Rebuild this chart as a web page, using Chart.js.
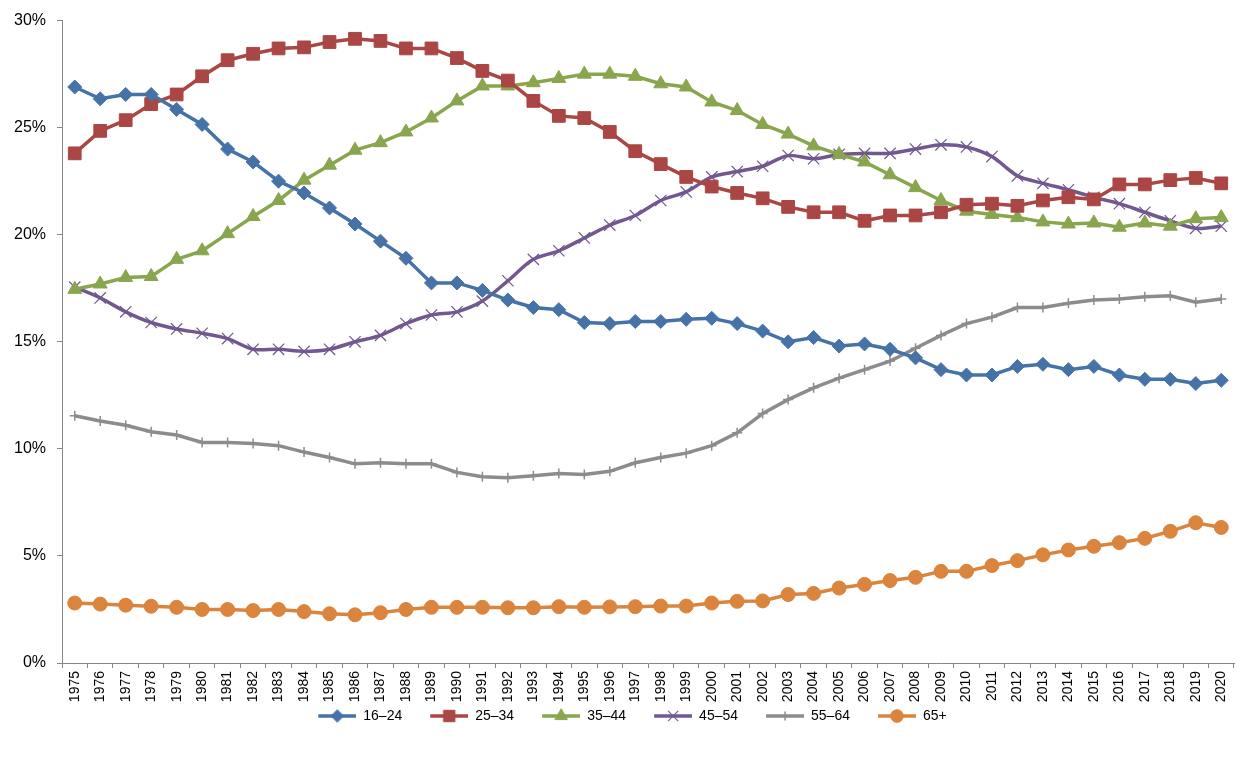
<!DOCTYPE html>
<html>
<head>
<meta charset="utf-8">
<script src="https://cdn.jsdelivr.net/npm/chart.js@4/dist/chart.umd.min.js"></script>
<style>
  html, body { margin: 0; padding: 0; background: #fff; }
  #wrap { width: 1244px; height: 757px; position: relative; }
</style>
</head>
<body>
<div id="wrap"><canvas id="ageChart"></canvas></div>
<script>
// Share of labour force by age group, 1975-2020 (%)
var years = ['1975', '1976', '1977', '1978', '1979', '1980', '1981', '1982', '1983', '1984',
    '1985', '1986', '1987', '1988', '1989', '1990', '1991', '1992', '1993', '1994',
    '1995', '1996', '1997', '1998', '1999', '2000', '2001', '2002', '2003', '2004',
    '2005', '2006', '2007', '2008', '2009', '2010', '2011', '2012', '2013', '2014',
    '2015', '2016', '2017', '2018', '2019', '2020'];

var age16to24 = [26.9, 26.35, 26.55, 26.55, 25.85, 25.15, 24.0, 23.4, 22.5, 21.95,
    21.25, 20.5, 19.7, 18.9, 17.75, 17.75, 17.4, 16.95, 16.6, 16.5,
    15.9, 15.85, 15.95, 15.95, 16.05, 16.1, 15.85, 15.5, 15.0, 15.2,
    14.8, 14.9, 14.65, 14.25, 13.7, 13.45, 13.45, 13.85, 13.95, 13.7,
    13.85, 13.45, 13.25, 13.25, 13.05, 13.2];

var age25to34 = [23.8, 24.85, 25.35, 26.1, 26.55, 27.4, 28.15, 28.45, 28.7, 28.75,
    29.0, 29.15, 29.05, 28.7, 28.7, 28.25, 27.65, 27.2, 26.25, 25.55,
    25.45, 24.8, 23.9, 23.3, 22.7, 22.25, 21.95, 21.7, 21.3, 21.05,
    21.05, 20.65, 20.9, 20.9, 21.05, 21.4, 21.45, 21.35, 21.6, 21.75,
    21.65, 22.35, 22.35, 22.55, 22.65, 22.4];

var age35to44 = [17.45, 17.7, 18.0, 18.05, 18.85, 19.25, 20.05, 20.85, 21.6, 22.55,
    23.25, 23.95, 24.3, 24.8, 25.45, 26.25, 26.95, 26.95, 27.1, 27.3,
    27.5, 27.5, 27.4, 27.05, 26.9, 26.2, 25.8, 25.15, 24.7, 24.15,
    23.75, 23.4, 22.8, 22.2, 21.6, 21.1, 20.95, 20.8, 20.6, 20.5,
    20.55, 20.35, 20.55, 20.4, 20.75, 20.8];

var age45to54 = [17.55, 17.05, 16.4, 15.9, 15.6, 15.4, 15.15, 14.65, 14.65, 14.55,
    14.65, 15.0, 15.3, 15.85, 16.25, 16.4, 16.9, 17.85, 18.85, 19.25,
    19.85, 20.45, 20.9, 21.6, 22.0, 22.7, 22.95, 23.2, 23.7, 23.55,
    23.75, 23.8, 23.8, 24.0, 24.2, 24.1, 23.65, 22.75, 22.4, 22.1,
    21.75, 21.45, 21.05, 20.65, 20.3, 20.4];

var age55to64 = [11.55, 11.3, 11.1, 10.8, 10.65, 10.3, 10.3, 10.25, 10.15, 9.85,
    9.6, 9.3, 9.35, 9.3, 9.3, 8.9, 8.7, 8.65, 8.75, 8.85,
    8.8, 8.95, 9.35, 9.6, 9.8, 10.15, 10.75, 11.65, 12.3, 12.85,
    13.3, 13.7, 14.1, 14.7, 15.3, 15.85, 16.15, 16.6, 16.6, 16.8,
    16.95, 17.0, 17.1, 17.15, 16.85, 17.0];

var age65plus = [2.8, 2.75, 2.7, 2.65, 2.6, 2.5, 2.5, 2.45, 2.5, 2.4,
    2.3, 2.25, 2.35, 2.5, 2.6, 2.6, 2.6, 2.58, 2.58, 2.63,
    2.6, 2.62, 2.63, 2.66, 2.66, 2.8, 2.88, 2.9, 3.2, 3.25,
    3.5, 3.67, 3.85, 4.0, 4.28, 4.28, 4.55, 4.78, 5.05, 5.28,
    5.45, 5.62, 5.82, 6.15, 6.55, 6.33];

var yTicks = [0, 5, 10, 15, 20, 25, 30];

function series(label, data, color, style, radius, extra) {
    var ds = {
        label: label,
        data: data,
        borderColor: color,
        backgroundColor: color,
        borderWidth: 3.5,
        pointStyle: style,
        pointRadius: radius,
        pointHoverRadius: radius,
        pointBackgroundColor: color,
        pointBorderColor: color,
        pointBorderWidth: 1,
        tension: 0
    };
    for (var k in extra) ds[k] = extra[k];
    return ds;
}

var datasets = [
    series('16–24', age16to24, '#4572A7', 'rectRot', 7, {}),
    series('25–34', age25to34, '#AA4643', 'rect', 9, {}),
    series('35–44', age35to44, '#89A54E', 'triangle', 8, {}),
    series('45–54', age45to54, '#71588F', 'crossRot', 8, { tension: 0.3, pointBorderWidth: 1.2 }),
    series('55–64', age55to64, '#8C8C8C', 'cross', 5, { pointBorderWidth: 1.5 }),
    series('65+', age65plus, '#DB843D', 'circle', 7, {})
];

// legend icons: blank lead-in, then a line with the series marker in the middle
var ICON_W = 60, ICON_LEAD = 22;
function legendIcon(ds) {
    var c = document.createElement('canvas');
    c.width = ICON_W; c.height = 18;
    var g = c.getContext('2d');
    g.strokeStyle = ds.borderColor;
    g.lineWidth = ds.borderWidth;
    g.beginPath();
    g.moveTo(ICON_LEAD, 9);
    g.lineTo(ICON_W, 9);
    g.stroke();
    g.fillStyle = ds.pointBackgroundColor;
    g.strokeStyle = ds.pointBorderColor;
    g.lineWidth = ds.pointBorderWidth;
    Chart.helpers.drawPoint(g, {
        pointStyle: ds.pointStyle,
        radius: ds.pointRadius * 0.9,
        rotation: 0,
        borderWidth: ds.pointBorderWidth
    }, ICON_LEAD + (ICON_W - ICON_LEAD) / 2, 9);
    return c;
}
var icons = datasets.map(legendIcon);

var ctx = document.getElementById('ageChart').getContext('2d');
new Chart(ctx, {
    type: 'line',
    data: {
        labels: years,
        datasets: datasets
    },
    options: {
        responsive: true,
        maintainAspectRatio: false,
        animation: false,
        layout: {
            padding: { top: 17, right: 1, bottom: 24, left: 0 }
        },
        plugins: {
            tooltip: { enabled: false },
            legend: {
                position: 'bottom',
                labels: {
                    usePointStyle: true,
                    pointStyleWidth: ICON_W,
                    padding: 6,
                    color: '#000',
                    font: { family: 'Liberation Sans, Arial, sans-serif', size: 14 },
                    generateLabels: function(chart) {
                        var items = Chart.defaults.plugins.legend.labels.generateLabels(chart);
                        items.forEach(function(it) { it.pointStyle = icons[it.datasetIndex]; });
                        return items;
                    }
                }
            }
        },
        scales: {
            x: {
                offset: true,
                grid: {
                    offset: true,
                    drawOnChartArea: false,
                    drawTicks: true,
                    tickLength: 5,
                    color: '#868686'
                },
                border: { display: true, color: '#868686', width: 1 },
                ticks: {
                    autoSkip: false,
                    minRotation: 90,
                    maxRotation: 90,
                    padding: 3,
                    color: '#000',
                    font: { family: 'Liberation Sans, Arial, sans-serif', size: 14 }
                },
                afterFit: function(scale) { scale.height = 40; }
            },
            y: {
                min: yTicks[0],
                max: yTicks[yTicks.length - 1],
                afterBuildTicks: function(scale) {
                    scale.ticks = yTicks.map(function(v) { return { value: v }; });
                },
                grid: {
                    drawOnChartArea: false,
                    drawTicks: true,
                    tickLength: 5,
                    color: '#868686'
                },
                border: { display: true, color: '#868686', width: 1 },
                ticks: {
                    padding: 11,
                    color: '#000',
                    font: { family: 'Liberation Sans, Arial, sans-serif', size: 16 },
                    callback: function(v) { return v + '%'; }
                },
                afterFit: function(scale) { scale.width = 62; }
            }
        }
    }
});
</script>
</body>
</html>
